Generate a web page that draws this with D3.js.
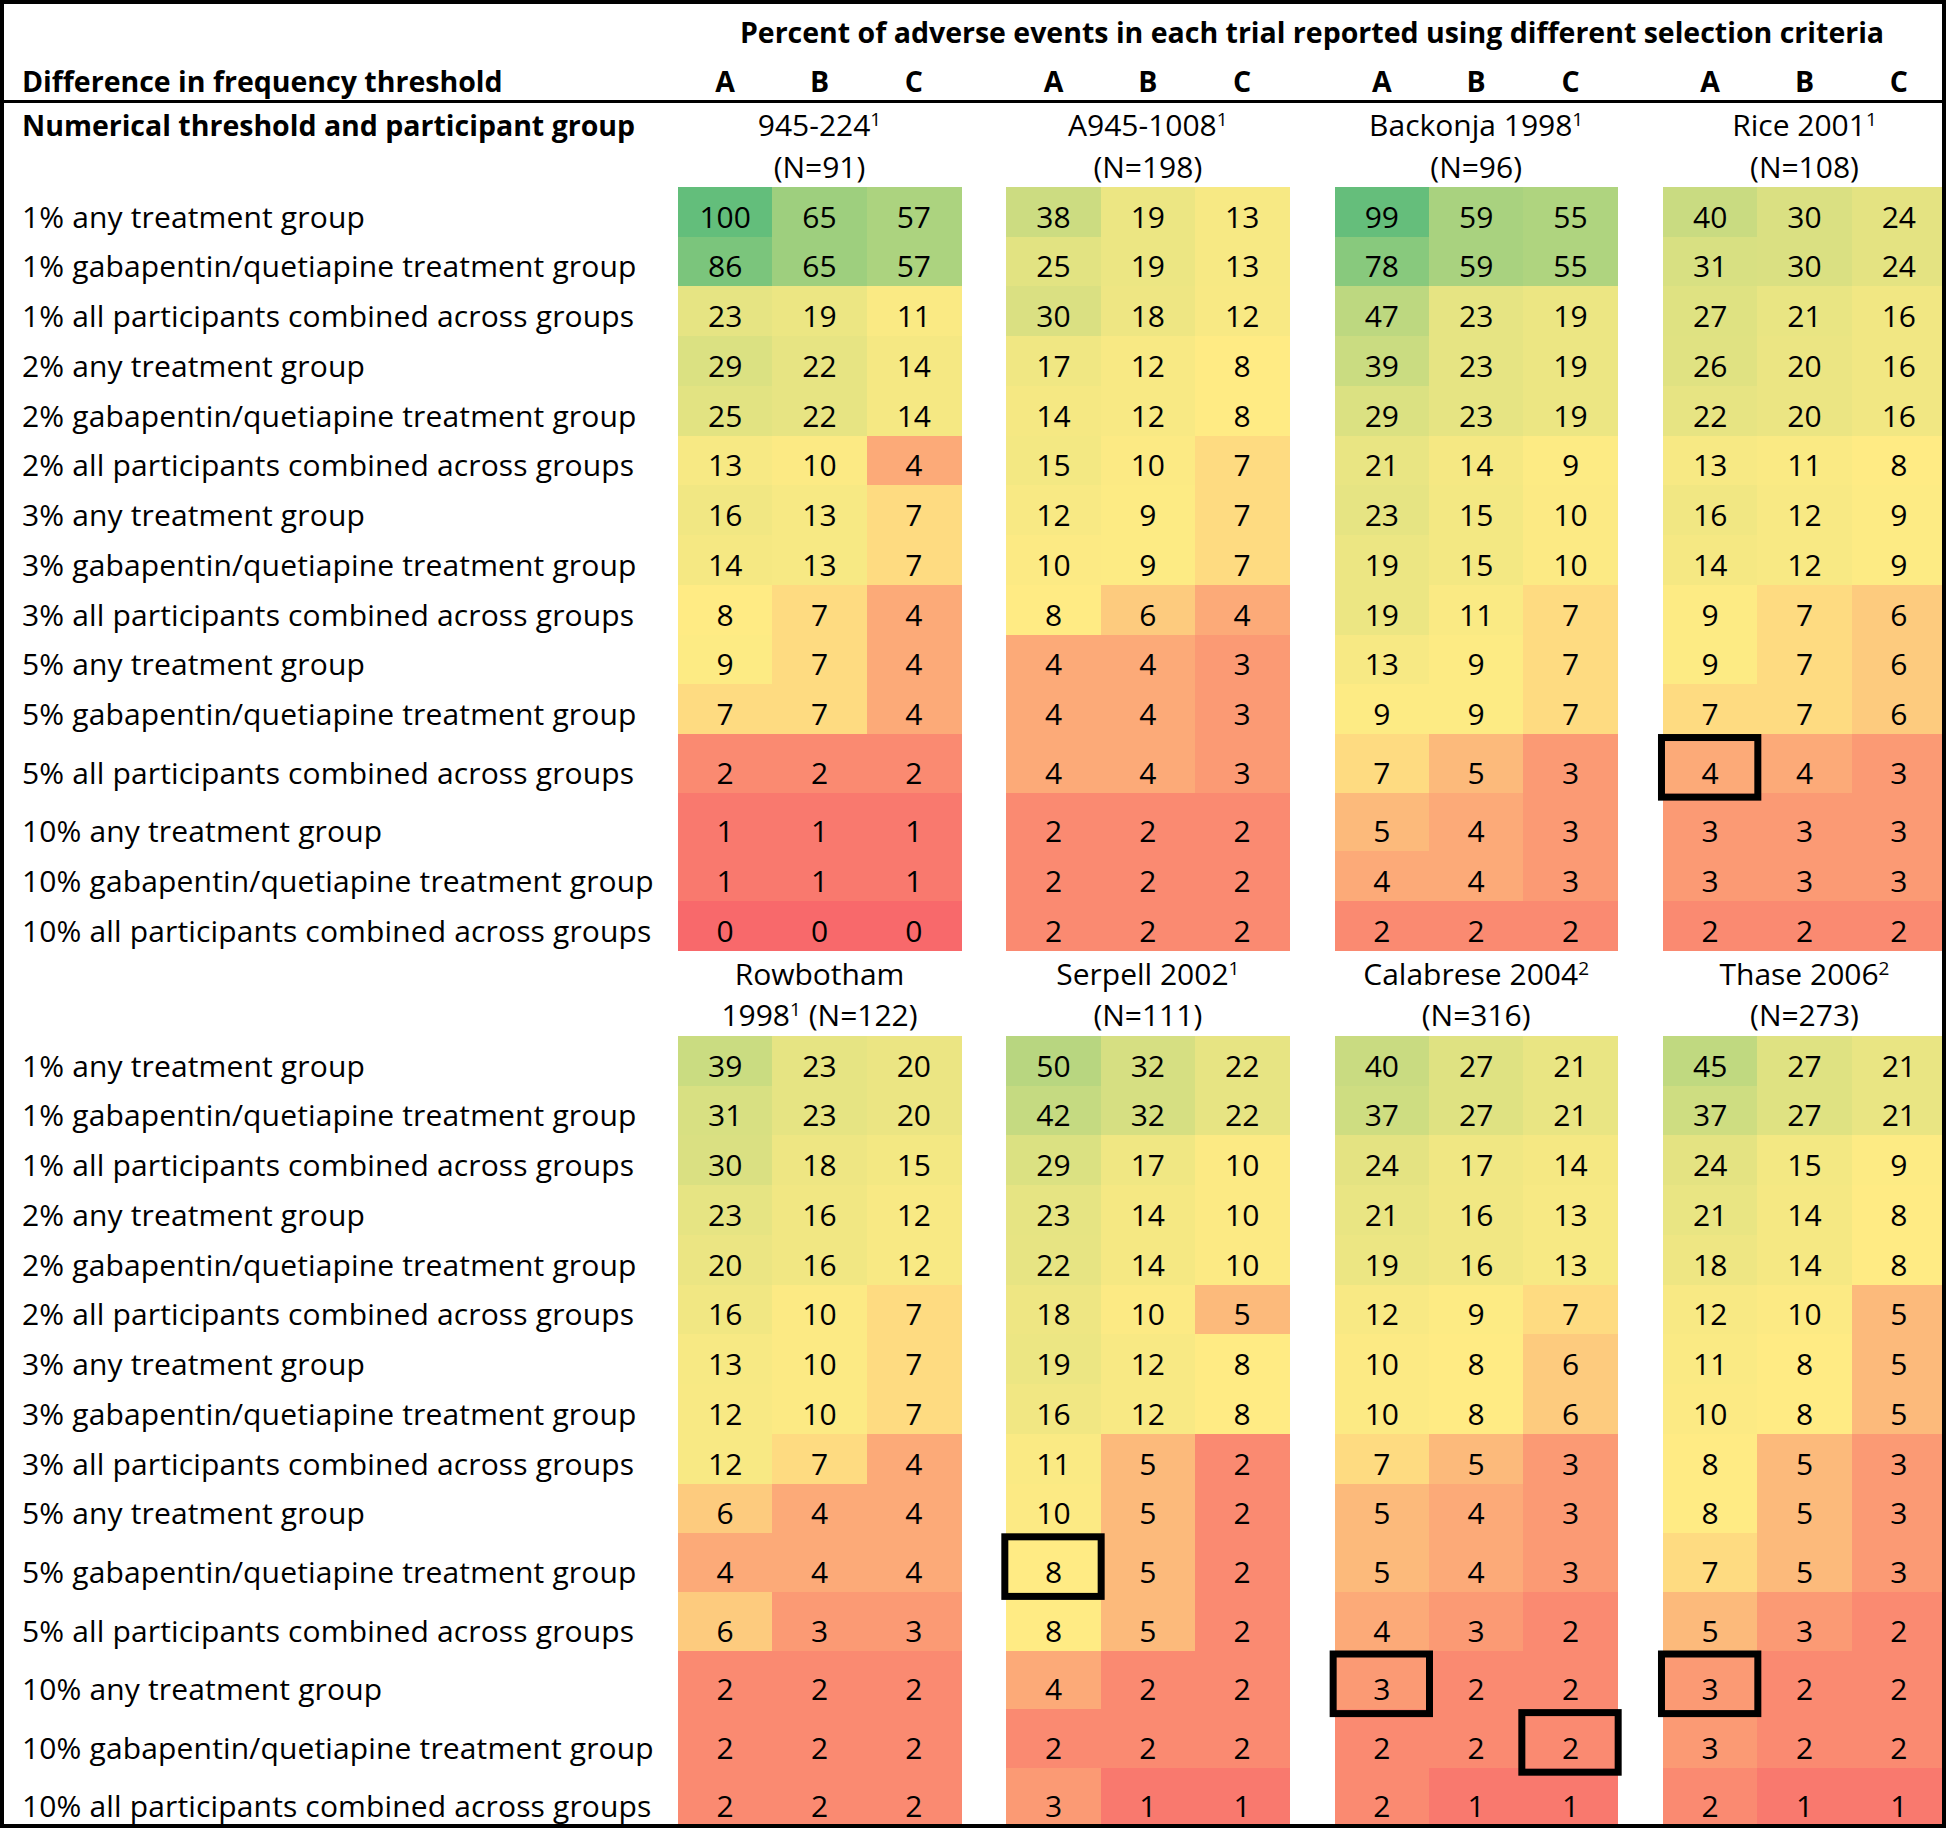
<!DOCTYPE html>
<html><head><meta charset="utf-8">
<script src="https://cdn.jsdelivr.net/npm/d3@7"></script>
<style>
body{margin:0;background:#fff}
svg{display:block}
text{font-family:"Open Sans",Lato,sans-serif;fill:#000}
</style>
</head><body>
<svg id="chart" width="1946" height="1828"></svg>
<script>
// ---------------- DATA ----------------
const title = "Percent of adverse events in each trial reported using different selection criteria";
const leftHeader1 = "Difference in frequency threshold";
const leftHeader2 = "Numerical threshold and participant group";
const criteria = ["A", "B", "C"];
const rowLabels = [
  "1% any treatment group",
  "1% gabapentin/quetiapine treatment group",
  "1% all participants combined across groups",
  "2% any treatment group",
  "2% gabapentin/quetiapine treatment group",
  "2% all participants combined across groups",
  "3% any treatment group",
  "3% gabapentin/quetiapine treatment group",
  "3% all participants combined across groups",
  "5% any treatment group",
  "5% gabapentin/quetiapine treatment group",
  "5% all participants combined across groups",
  "10% any treatment group",
  "10% gabapentin/quetiapine treatment group",
  "10% all participants combined across groups"
];
// study headers: {n} marks a superscript
const topStudies = [
  ["945-224{1}", "(N=91)"],
  ["A945-1008{1}", "(N=198)"],
  ["Backonja 1998{1}", "(N=96)"],
  ["Rice 2001{1}", "(N=108)"]
];
const bottomStudies = [
  ["Rowbotham", "1998{1} (N=122)"],
  ["Serpell 2002{1}", "(N=111)"],
  ["Calabrese 2004{2}", "(N=316)"],
  ["Thase 2006{2}", "(N=273)"]
];
const v945_224 = [[100,65,57],[86,65,57],[23,19,11],[29,22,14],[25,22,14],[13,10,4],[16,13,7],[14,13,7],[8,7,4],[9,7,4],[7,7,4],[2,2,2],[1,1,1],[1,1,1],[0,0,0]];
const vA945_1008 = [[38,19,13],[25,19,13],[30,18,12],[17,12,8],[14,12,8],[15,10,7],[12,9,7],[10,9,7],[8,6,4],[4,4,3],[4,4,3],[4,4,3],[2,2,2],[2,2,2],[2,2,2]];
const vBackonja = [[99,59,55],[78,59,55],[47,23,19],[39,23,19],[29,23,19],[21,14,9],[23,15,10],[19,15,10],[19,11,7],[13,9,7],[9,9,7],[7,5,3],[5,4,3],[4,4,3],[2,2,2]];
const vRice = [[40,30,24],[31,30,24],[27,21,16],[26,20,16],[22,20,16],[13,11,8],[16,12,9],[14,12,9],[9,7,6],[9,7,6],[7,7,6],[4,4,3],[3,3,3],[3,3,3],[2,2,2]];
const vRowbotham = [[39,23,20],[31,23,20],[30,18,15],[23,16,12],[20,16,12],[16,10,7],[13,10,7],[12,10,7],[12,7,4],[6,4,4],[4,4,4],[6,3,3],[2,2,2],[2,2,2],[2,2,2]];
const vSerpell = [[50,32,22],[42,32,22],[29,17,10],[23,14,10],[22,14,10],[18,10,5],[19,12,8],[16,12,8],[11,5,2],[10,5,2],[8,5,2],[8,5,2],[4,2,2],[2,2,2],[3,1,1]];
const vCalabrese = [[40,27,21],[37,27,21],[24,17,14],[21,16,13],[19,16,13],[12,9,7],[10,8,6],[10,8,6],[7,5,3],[5,4,3],[5,4,3],[4,3,2],[3,2,2],[2,2,2],[2,1,1]];
const vThase = [[45,27,21],[37,27,21],[24,15,9],[21,14,8],[18,14,8],[12,10,5],[11,8,5],[10,8,5],[8,5,3],[8,5,3],[7,5,3],[5,3,2],[3,2,2],[3,2,2],[2,1,1]];
const topValues = [v945_224, vA945_1008, vBackonja, vRice];
const bottomValues = [vRowbotham, vSerpell, vCalabrese, vThase];
// highlighted cells: [panel, study index, row index, criterion]
const highlights = [
  ["top", 3, 11, "A"],
  ["bottom", 1, 10, "A"],
  ["bottom", 2, 12, "A"],
  ["bottom", 3, 12, "A"],
  ["bottom", 2, 13, "C"]
];

// ---------------- LAYOUT ----------------
const W = 1946, H = 1828;
const FS = 30, FSB = 28.5, LS = 0.15;
const svg = d3.select("#chart");
svg.append("rect").attr("width", W).attr("height", H).attr("fill", "#fff");

const xBlock = d3.scaleBand().domain(d3.range(4)).range([678, 1946]).paddingInner(0.138).paddingOuter(0);
const xCol = d3.scaleBand().domain(criteria).range([0, xBlock.bandwidth()]);

const NORMAL = 49.73, TALL = 58.6;
const topHeights = rowLabels.map((d, i) => (i === 11 || i === 12) ? TALL : NORMAL);
const bottomHeights = rowLabels.map((d, i) => i >= 10 ? TALL : NORMAL);
function rowScale(y0, heights) {
  const ends = Array.from(d3.cumsum(heights));
  const starts = ends.map((e, i) => y0 + e - heights[i]);
  return {
    y: d3.scaleOrdinal().domain(d3.range(heights.length)).range(starts),
    h: d3.scaleOrdinal().domain(d3.range(heights.length)).range(heights)
  };
}
const panels = {
  top: {rows: rowScale(187, topHeights), studies: topStudies, values: topValues, headY: [136, 178]},
  bottom: {rows: rowScale(1036, bottomHeights), studies: bottomStudies, values: bottomValues, headY: [985, 1026]}
};

const allVals = [...topValues, ...bottomValues].flat(2);
const color = d3.scaleLinear()
  .domain([d3.min(allVals), d3.quantile(allVals, 0.5), d3.max(allVals)])
  .range(["#F8696B", "#FFEB84", "#63BE7B"])
  .interpolate(d3.interpolateRgb);

function richText(sel, str) {
  const parts = str.split(/\{(\d)\}/);
  parts.forEach((p, i) => {
    if (!p) return;
    if (i % 2 === 1) {
      sel.append("tspan").attr("font-size", 19).attr("dy", -10).text(p);
    } else {
      const t = sel.append("tspan").text(p);
      if (i > 0) t.attr("dy", 10);
    }
  });
}

// title + headers
svg.append("text").attr("x", (xBlock.range()[0] + xBlock.range()[1]) / 2).attr("y", 43)
  .attr("text-anchor", "middle").attr("font-weight", "bold").attr("font-size", FSB).text(title);
svg.append("text").attr("x", 22).attr("y", 92).attr("font-weight", "bold").attr("font-size", FSB).text(leftHeader1);
svg.append("text").attr("x", 22).attr("y", 136).attr("font-weight", "bold").attr("font-size", FSB).text(leftHeader2);
xBlock.domain().forEach(b => {
  criteria.forEach(c => {
    svg.append("text").attr("x", xBlock(b) + xCol(c) + xCol.bandwidth() / 2).attr("y", 92)
      .attr("text-anchor", "middle").attr("font-weight", "bold").attr("font-size", FSB).text(c);
  });
});
svg.append("line").attr("x1", 0).attr("x2", W).attr("y1", 101.5).attr("y2", 101.5)
  .attr("stroke", "#000").attr("stroke-width", 3);

Object.entries(panels).forEach(([key, p]) => {
  const g = svg.append("g").attr("class", "panel-" + key);
  // study headers
  p.studies.forEach((lines, b) => {
    lines.forEach((ln, li) => {
      const t = g.append("text").attr("x", xBlock(b) + xBlock.bandwidth() / 2).attr("y", p.headY[li])
        .attr("text-anchor", "middle").attr("font-size", FS);
      richText(t, ln);
    });
  });
  // row labels
  rowLabels.forEach((lab, r) => {
    g.append("text").attr("x", 22).attr("y", p.rows.y(r) + p.rows.h(r) - 9)
      .attr("font-size", FS).attr("letter-spacing", LS).text(lab);
  });
  // cells
  p.values.forEach((mat, b) => {
    const cells = [];
    mat.forEach((row, r) => row.forEach((v, ci) => cells.push({b, r, c: criteria[ci], v})));
    const cg = g.append("g");
    cg.selectAll("rect").data(cells).join("rect")
      .attr("x", d => xBlock(d.b) + xCol(d.c))
      .attr("y", d => p.rows.y(d.r))
      .attr("width", xCol.bandwidth() + 0.5)
      .attr("height", d => p.rows.h(d.r) + 0.5)
      .attr("fill", d => color(d.v))
      .attr("shape-rendering", "crispEdges");
    cg.selectAll("text").data(cells).join("text")
      .attr("x", d => xBlock(d.b) + xCol(d.c) + xCol.bandwidth() / 2)
      .attr("y", d => p.rows.y(d.r) + p.rows.h(d.r) - 9)
      .attr("text-anchor", "middle").attr("font-size", FS)
      .text(d => d.v);
  });
});

// highlight boxes
svg.append("g").selectAll("rect").data(highlights).join("rect")
  .attr("x", d => xBlock(d[1]) + xCol(d[3]) - 1.5)
  .attr("y", d => panels[d[0]].rows.y(d[2]) + 3.5)
  .attr("width", xCol.bandwidth() + 2)
  .attr("height", d => panels[d[0]].rows.h(d[2]) + 1)
  .attr("fill", "none").attr("stroke", "#000").attr("stroke-width", 7);

// outer border
svg.append("rect").attr("x", 2).attr("y", 2).attr("width", W - 4).attr("height", H - 4)
  .attr("fill", "none").attr("stroke", "#000").attr("stroke-width", 4);
</script>
</body></html>
